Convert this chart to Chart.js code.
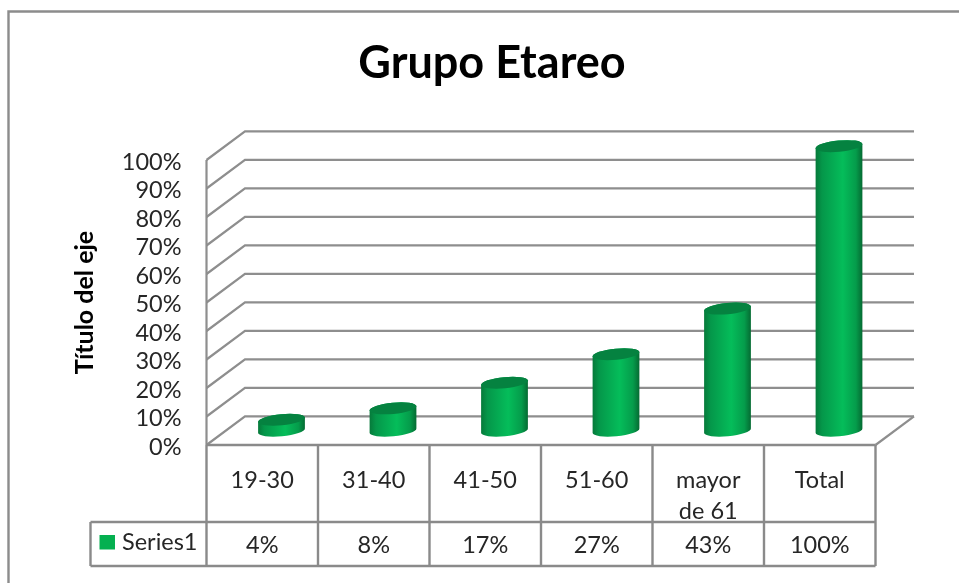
<!DOCTYPE html>
<html>
<head>
<meta charset="utf-8">
<style>html,body{margin:0;padding:0;background:#fff}canvas{display:block}</style>
<script src="https://cdn.jsdelivr.net/npm/chart.js@4"></script>
</head>
<body>
<canvas id="c" width="959" height="583"></canvas>
<script>
const categories = [['19-30'], ['31-40'], ['41-50'], ['51-60'], ['mayor', 'de 61'], ['Total']];
const seriesValues = [4, 8, 17, 27, 43, 100];
const seriesName = 'Series1';
const chartTitle = 'Grupo Etareo';
const axisTitle = 'Título del eje';

const FONT = 'Lato, Carlito, Calibri, sans-serif';
const TEXT = '#262626', LINE = '#8a8a8a', GRID = '#8e8e8e';
const DX = 38.5, DY = -28.7;

const pseudo3d = {
  id: 'pseudo3d',
  afterLayout(chart) {
    chart.titleBlock.left = 25;
    chart.titleBlock.right = 959;
  },
  beforeDatasetsDraw(chart) {
    const ctx = chart.ctx, y = chart.scales.y, a = chart.chartArea;
    ctx.save();
    ctx.lineWidth = 2.2;
    ctx.strokeStyle = GRID;
    y.ticks.forEach(t => {
      const py = y.getPixelForValue(t.value);
      ctx.beginPath();
      ctx.moveTo(a.left, py);
      ctx.lineTo(a.left + DX, py + DY);
      ctx.lineTo(a.right + DX, py + DY);
      ctx.stroke();
    });
    ctx.beginPath();
    ctx.moveTo(a.right, a.bottom);
    ctx.lineTo(a.right + DX, a.bottom + DY);
    ctx.stroke();
    ctx.beginPath();
    ctx.moveTo(a.left, a.top);
    ctx.lineTo(a.left, a.bottom);
    ctx.stroke();
    ctx.restore();
  },
  beforeDatasetDraw(chart, args) {
    const ctx = chart.ctx;
    const rot = -5.5 * Math.PI / 180, ry = 5.6;
    chart.getDatasetMeta(args.index).data.forEach(el => {
      const cx = el.x + DX / 2, top = el.y + DY / 2 + 0.5, base = el.base + DY / 2, rx = el.width / 2;
      const g = ctx.createLinearGradient(cx - rx, 0, cx + rx, 0);
      g.addColorStop(0, '#06793a');
      g.addColorStop(0.14, '#05974a');
      g.addColorStop(0.58, '#05bd5a');
      g.addColorStop(0.86, '#059c4b');
      g.addColorStop(1, '#056a32');
      ctx.save();
      ctx.fillStyle = g;
      ctx.beginPath();
      ctx.ellipse(cx, base, rx, ry, rot, Math.PI, 0, true);
      ctx.ellipse(cx, top, rx, ry, rot, 0, Math.PI, true);
      ctx.closePath();
      ctx.fill();
      ctx.fillStyle = '#058240';
      ctx.beginPath();
      ctx.ellipse(cx, top, rx, ry, rot, 0, Math.PI * 2);
      ctx.fill();
      ctx.restore();
    });
    return false;
  },
  afterDraw(chart) {
    const ctx = chart.ctx, a = chart.chartArea, x = chart.scales.x;
    const rowA = 522, rowB = 566, legendLeft = 90.5;
    ctx.save();
    ctx.strokeStyle = '#8c8c8c';
    ctx.lineWidth = 2.4;
    ctx.beginPath();
    ctx.moveTo(8.5, 583); ctx.lineTo(8.5, 11.5); ctx.lineTo(959, 11.5);
    ctx.stroke();

    ctx.strokeStyle = LINE;
    ctx.lineWidth = 2.4;
    const cols = categories.length;
    const step = (a.right - a.left) / cols;
    ctx.beginPath();
    ctx.moveTo(a.left, a.bottom); ctx.lineTo(a.right, a.bottom);
    ctx.moveTo(legendLeft, rowA); ctx.lineTo(a.right, rowA);
    ctx.moveTo(legendLeft, rowB); ctx.lineTo(a.right, rowB);
    ctx.moveTo(legendLeft, rowA); ctx.lineTo(legendLeft, rowB);
    for (let i = 0; i <= cols; i++) {
      ctx.moveTo(a.left + i * step, a.bottom);
      ctx.lineTo(a.left + i * step, rowB);
    }
    ctx.stroke();

    ctx.fillStyle = '#05b050';
    ctx.fillRect(99.5, 535, 15.5, 14.5);

    ctx.font = '23.5px ' + FONT;
    ctx.fillStyle = TEXT;
    ctx.textBaseline = 'middle';
    ctx.textAlign = 'left';
    ctx.fillText(seriesName, 122, 542);
    ctx.textAlign = 'center';
    seriesValues.forEach((v, i) => {
      ctx.fillText(v + '%', x.getPixelForValue(i), 545);
    });
    ctx.restore();
  }
};

new Chart(document.getElementById('c'), {
  type: 'bar',
  data: {
    labels: categories,
    datasets: [{
      label: seriesName,
      data: seriesValues,
      backgroundColor: '#05b050',
      barPercentage: 0.4215,
      categoryPercentage: 1
    }]
  },
  plugins: [pseudo3d],
  options: {
    responsive: false,
    animation: false,
    layout: { padding: { top: 0, left: 0, right: 83.5, bottom: 0 } },
    plugins: {
      legend: { display: false },
      tooltip: { enabled: false },
      title: {
        display: true,
        text: chartTitle,
        color: '#000',
        font: { family: FONT, size: 45, weight: 'bold', lineHeight: 1 },
        padding: { top: 41, bottom: 74 }
      }
    },
    scales: {
      x: {
        grid: { display: false },
        border: { display: false },
        afterFit(s) { s.height = 138; },
        ticks: {
          color: TEXT,
          font: { family: FONT, size: 23.5, lineHeight: 1.33 },
          padding: 12,
          autoSkip: false,
          maxRotation: 0,
          minRotation: 0
        }
      },
      y: {
        min: 0,
        max: 100,
        grid: { display: false },
        border: { display: false },
        afterFit(s) { s.width = 206.5; },
        title: {
          display: true,
          text: axisTitle,
          color: '#000',
          font: { family: FONT, size: 25, weight: 'bold', lineHeight: 1 },
          padding: { top: 72.5, bottom: 0 }
        },
        ticks: {
          stepSize: 10,
          autoSkip: false,
          color: TEXT,
          font: { family: FONT, size: 23.5 },
          padding: 17,
          labelOffset: 2,
          callback: v => v + '%'
        }
      }
    }
  }
});
</script>
</body>
</html>
